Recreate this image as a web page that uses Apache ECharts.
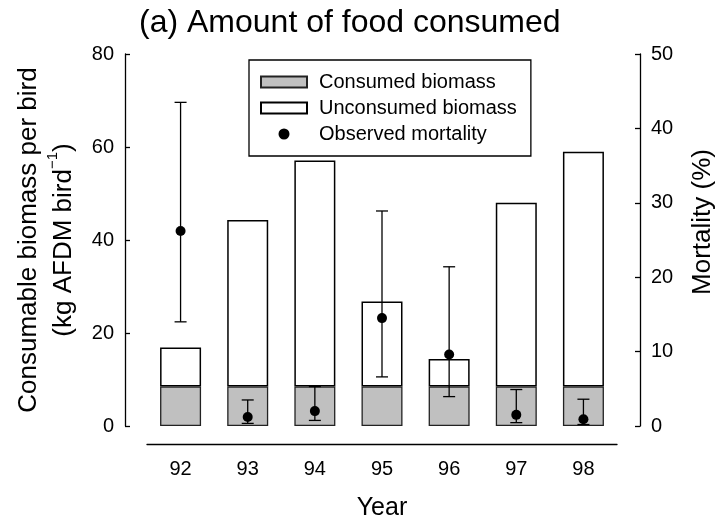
<!DOCTYPE html>
<html>
<head>
<meta charset="utf-8">
<script src="https://cdn.jsdelivr.net/npm/echarts@6/dist/echarts.min.js"></script>
<style>
  html, body { margin: 0; padding: 0; background: #fff; }
  #chart { width: 720px; height: 518px; }
</style>
</head>
<body>
<div id="chart"></div>
<script>
// Seasons (19xx)
var years = ['92', '93', '94', '95', '96', '97', '98'];
// Consumable biomass per bird, kg AFDM bird^-1
var consumed = [8.5, 8.5, 8.5, 8.5, 8.5, 8.5, 8.5];
var unconsumed = [8.4, 35.8, 48.6, 18.3, 5.9, 39.5, 50.5];
// Observed mortality (%) with lower / upper limits
var mortality = [26.2, 1.2, 2.0, 14.5, 9.6, 1.5, 0.9];
var mortalityLow = [14.0, 0.35, 0.75, 6.6, 3.95, 0.45, 0.2];
var mortalityHigh = [43.5, 3.5, 5.3, 28.9, 21.4, 4.9, 3.6];
// Axis ticks
var leftTicks = { min: 0, max: 80, interval: 20 };
var rightTicks = { min: 0, max: 50, interval: 10 };

var FONT = '"Liberation Sans", Arial, Helvetica, sans-serif';

var errorData = years.map(function (y, i) {
  return [i, mortalityLow[i], mortalityHigh[i]];
});

var chart = echarts.init(document.getElementById('chart'), null, { renderer: 'canvas' });

chart.setOption({
  animation: false,
  backgroundColor: '#ffffff',
  textStyle: { fontFamily: FONT, color: '#000' },
  title: {
    text: '(a) Amount of food consumed',
    left: 134,
    top: 2,
    textStyle: { fontFamily: FONT, fontSize: 32, fontWeight: 'normal', color: '#000' }
  },
  legend: {
    orient: 'vertical',
    left: 249,
    top: 60,
    padding: [12, 14, 12, 11],
    itemGap: 6,
    itemWidth: 46,
    itemHeight: 11,
    borderColor: '#000',
    borderWidth: 1.3,
    borderRadius: 0,
    selectedMode: false,
    data: [
      { name: 'Consumed biomass', icon: 'rect' },
      { name: 'Unconsumed biomass', icon: 'rect' },
      { name: 'Observed mortality', icon: 'circle' }
    ],
    textStyle: { fontFamily: FONT, fontSize: 20, color: '#000', padding: [0, 0, 0, 7] }
  },
  grid: { left: 147, right: 103, top: 54, bottom: 92, containLabel: false, outerBoundsMode: 'none' },
  xAxis: {
    type: 'category',
    data: years,
    offset: 18,
    name: 'Year',
    nameLocation: 'middle',
    nameGap: 52,
    nameTextStyle: { fontFamily: FONT, fontSize: 25, color: '#000' },
    axisLine: { onZero: false, lineStyle: { color: '#000', width: 1.3 } },
    axisTick: { alignWithLabel: true, inside: true, length: 5, lineStyle: { color: '#000', width: 1.3 } },
    axisLabel: { fontFamily: FONT, fontSize: 20, color: '#000', margin: 15 },
    splitLine: { show: false }
  },
  yAxis: [
    {
      type: 'value',
      position: 'left',
      min: leftTicks.min,
      max: leftTicks.max,
      interval: leftTicks.interval,
      offset: 22,
      name: '{a|Consumable biomass per bird}\n{a|(kg AFDM bird}{s|−1}{a|)}',
      nameLocation: 'middle',
      nameRotate: 90,
      nameGap: 42,
      nameTextStyle: {
        fontFamily: FONT,
        color: '#000',
        lineHeight: 35,
        rich: {
          a: { fontFamily: FONT, fontSize: 26, color: '#000', lineHeight: 35 },
          s: { fontFamily: FONT, fontSize: 15, color: '#000', verticalAlign: 'top', lineHeight: 35 }
        }
      },
      axisLine: { show: true, lineStyle: { color: '#000', width: 1.3 } },
      axisTick: { show: true, inside: true, length: 5, lineStyle: { color: '#000', width: 1.3 } },
      axisLabel: { fontFamily: FONT, fontSize: 20, color: '#000', margin: 11 },
      splitLine: { show: false }
    },
    {
      type: 'value',
      position: 'right',
      min: rightTicks.min,
      max: rightTicks.max,
      interval: rightTicks.interval,
      offset: 23,
      name: 'Mortality (%)',
      nameLocation: 'middle',
      nameRotate: 90,
      nameGap: 50,
      nameTextStyle: { fontFamily: FONT, fontSize: 26, color: '#000', padding: [0, 0, 0, 36] },
      axisLine: { show: true, lineStyle: { color: '#000', width: 1.3 } },
      axisTick: { show: true, inside: true, length: 5, lineStyle: { color: '#000', width: 1.3 } },
      axisLabel: { fontFamily: FONT, fontSize: 20, color: '#000', margin: 11 },
      splitLine: { show: false }
    }
  ],
  series: [
    {
      name: 'Consumed biomass',
      type: 'bar',
      stack: 'biomass',
      yAxisIndex: 0,
      barWidth: 41,
      data: consumed,
      itemStyle: { color: '#c0c0c0', borderColor: '#222', borderWidth: 1.3 },
      z: 2
    },
    {
      name: 'Unconsumed biomass',
      type: 'bar',
      stack: 'biomass',
      yAxisIndex: 0,
      barWidth: 41,
      data: unconsumed,
      itemStyle: { color: '#ffffff', borderColor: '#000', borderWidth: 1.5 },
      z: 2
    },
    {
      name: 'Mortality range',
      type: 'custom',
      xAxisIndex: 0,
      yAxisIndex: 1,
      data: errorData,
      z: 5,
      renderItem: function (params, api) {
        var x = api.value(0);
        var lo = api.coord([x, api.value(1)]);
        var hi = api.coord([x, api.value(2)]);
        var half = 6;
        var style = { stroke: '#000', lineWidth: 1.3 };
        return {
          type: 'group',
          children: [
            { type: 'line', shape: { x1: lo[0], y1: lo[1], x2: hi[0], y2: hi[1] }, style: style },
            { type: 'line', shape: { x1: hi[0] - half, y1: hi[1], x2: hi[0] + half, y2: hi[1] }, style: style },
            { type: 'line', shape: { x1: lo[0] - half, y1: lo[1], x2: lo[0] + half, y2: lo[1] }, style: style }
          ]
        };
      }
    },
    {
      name: 'Observed mortality',
      type: 'scatter',
      yAxisIndex: 1,
      symbol: 'circle',
      symbolSize: 10,
      data: mortality,
      itemStyle: { color: '#000', opacity: 1 },
      z: 6
    }
  ]
});
</script>
</body>
</html>
